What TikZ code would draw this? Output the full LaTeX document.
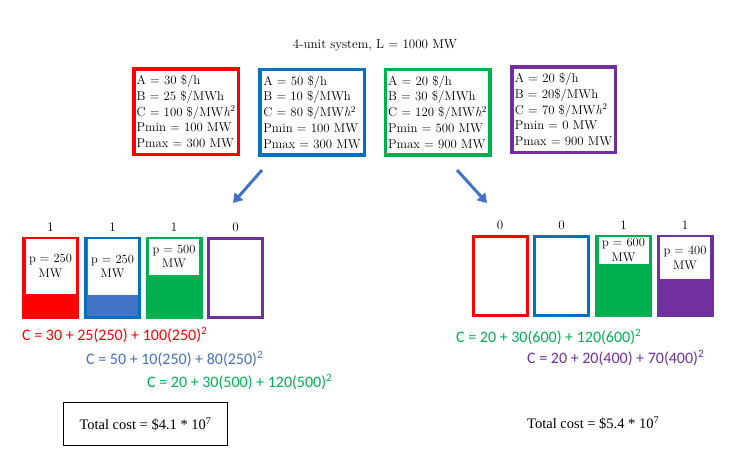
\documentclass[tikz,border=0pt]{standalone}
\usepackage{fontspec}
\newfontfamily\calibrifont{Carlito}
\newfontfamily\timesfont{Liberation Serif}
\usetikzlibrary{arrows.meta,positioning}
\definecolor{ured}{HTML}{FF0000}
\definecolor{ublue}{HTML}{0070C0}
\definecolor{lblue}{HTML}{4472C4}
\definecolor{ugreen}{HTML}{00B050}
\definecolor{upurple}{HTML}{7030A0}
\tikzset{
  unitdata/.style = {draw=#1, line width=3.5pt, minimum width=104.5pt, minimum height=85.5pt,
    inner xsep=1pt, align=left, font=\fontsize{12.8}{15.75}\selectfont},
  unit/.style = {draw=#1, line width=3pt, minimum width=54pt, minimum height=79pt, inner sep=0pt},
  pbox/.style = {fill=white, minimum width=50pt, inner sep=0pt, align=center,
    font=\fontsize{12.5}{14.5}\selectfont},
  state/.style = {font=\fontsize{13}{15}\selectfont, inner sep=0pt},
  cost/.style = {font=\calibrifont\fontsize{16}{19}\selectfont, text=#1, anchor=west, inner sep=0pt},
  total/.style = {font=\timesfont\fontsize{14.5}{17}\selectfont},
  split/.style = {draw=lblue, line width=3pt, -{Triangle[width=11pt,length=9pt]}}
}

\begin{document}
\begin{tikzpicture}[x=1pt,y=-1pt]
  \useasboundingbox (0,0) rectangle (731,453);

  \node[font=\fontsize{13}{15}\selectfont] (title) at (375,45) {4-unit system, L = 1000 MW};

  % unit data
  \node[unitdata=ured] (ua) at (186,111.5) {A = 30 \$/h\\B = 25 \$/MWh\\C = 100 \$/MW\textit{h}\textsuperscript{2}\\Pmin = 100 MW\\Pmax = 300 MW};
  \node[unitdata=ublue] (ub) at (312,112) {A = 50 \$/h\\B = 10 \$/MWh\\C = 80 \$/MW\textit{h}\textsuperscript{2}\\Pmin = 100 MW\\Pmax = 300 MW};
  \node[unitdata=ugreen] (uc) at (437.5,112) {A = 20 \$/h\\B = 30 \$/MWh\\C = 120 \$/MW\textit{h}\textsuperscript{2}\\Pmin = 500 MW\\Pmax = 900 MW};
  \node[unitdata=upurple, minimum width=103.5pt] (ud) at (563.5,109.5) {A = 20 \$/h\\B = 20\$/MWh\\C = 70 \$/MW\textit{h}\textsuperscript{2}\\Pmin = 0 MW\\Pmax = 900 MW};

  \coordinate (sl) at (262,170);
  \coordinate (slend) at (233,203);
  \coordinate (sr) at (457,170);
  \coordinate (srend) at (487,203);
  \draw[split] (sl) -- (slend);
  \draw[split] (sr) -- (srend);

  % left combination
  \node[unit=ured, fill=ured] (l1) at (50.5,278) {};
  \node[unit=ublue, fill=lblue] (l2) at (112.5,278) {};
  \node[unit=ugreen, fill=ugreen] (l3) at (174,278) {};
  \node[unit=upurple] (l4) at (235.5,278) {};
  \node[pbox, minimum height=55pt, below=1.5pt of l1.north] (l1p) {p = 250\\MW};
  \node[pbox, minimum height=56pt, below=1.5pt of l2.north] (l2p) {p = 250\\MW};
  \node[pbox, minimum height=36pt, below=1.5pt of l3.north] (l3p) {p = 500\\MW};
  \node[state, above=5pt of l1] {1};
  \node[state, above=5pt of l2] {1};
  \node[state, above=5pt of l3] {1};
  \node[state, above=5pt of l4] {0};

  % right combination
  \node[unit=ured] (r1) at (500,276) {};
  \node[unit=ublue] (r2) at (561.5,276) {};
  \node[unit=ugreen, fill=ugreen] (r3) at (623.5,276) {};
  \node[unit=upurple, fill=upurple] (r4) at (685,276) {};
  \node[pbox, minimum height=27pt, below=1.5pt of r3.north] (r3p) {p = 600\\MW};
  \node[pbox, minimum height=42pt, below=1.5pt of r4.north] (r4p) {p = 400\\MW};
  \node[state, above=5pt of r1] {0};
  \node[state, above=5pt of r2] {0};
  \node[state, above=5pt of r3] {1};
  \node[state, above=5pt of r4] {1};

  \node[cost=ured] (cl1) at (22,335) {C = 30 + 25(250) + 100(250)\textsuperscript{2}};
  \node[cost=lblue] (cl2) at (86,359) {C = 50 + 10(250) + 80(250)\textsuperscript{2}};
  \node[cost=ugreen] (cl3) at (147,382) {C = 20 + 30(500) + 120(500)\textsuperscript{2}};
  \node[cost=ugreen] (cr3) at (456,337) {C = 20 + 30(600) + 120(600)\textsuperscript{2}};
  \node[cost=upurple] (cr4) at (527,358) {C = 20 + 20(400) + 70(400)\textsuperscript{2}};

  \node[total, draw, line width=1.5pt, minimum width=164pt, minimum height=43pt] (tl) at (145.5,424) {Total cost = \$4.1 * 10\textsuperscript{7}};
  \node[total, anchor=west, inner sep=0pt] (tr) at (527,423) {Total cost = \$5.4 * 10\textsuperscript{7}};
\end{tikzpicture}
\end{document}
